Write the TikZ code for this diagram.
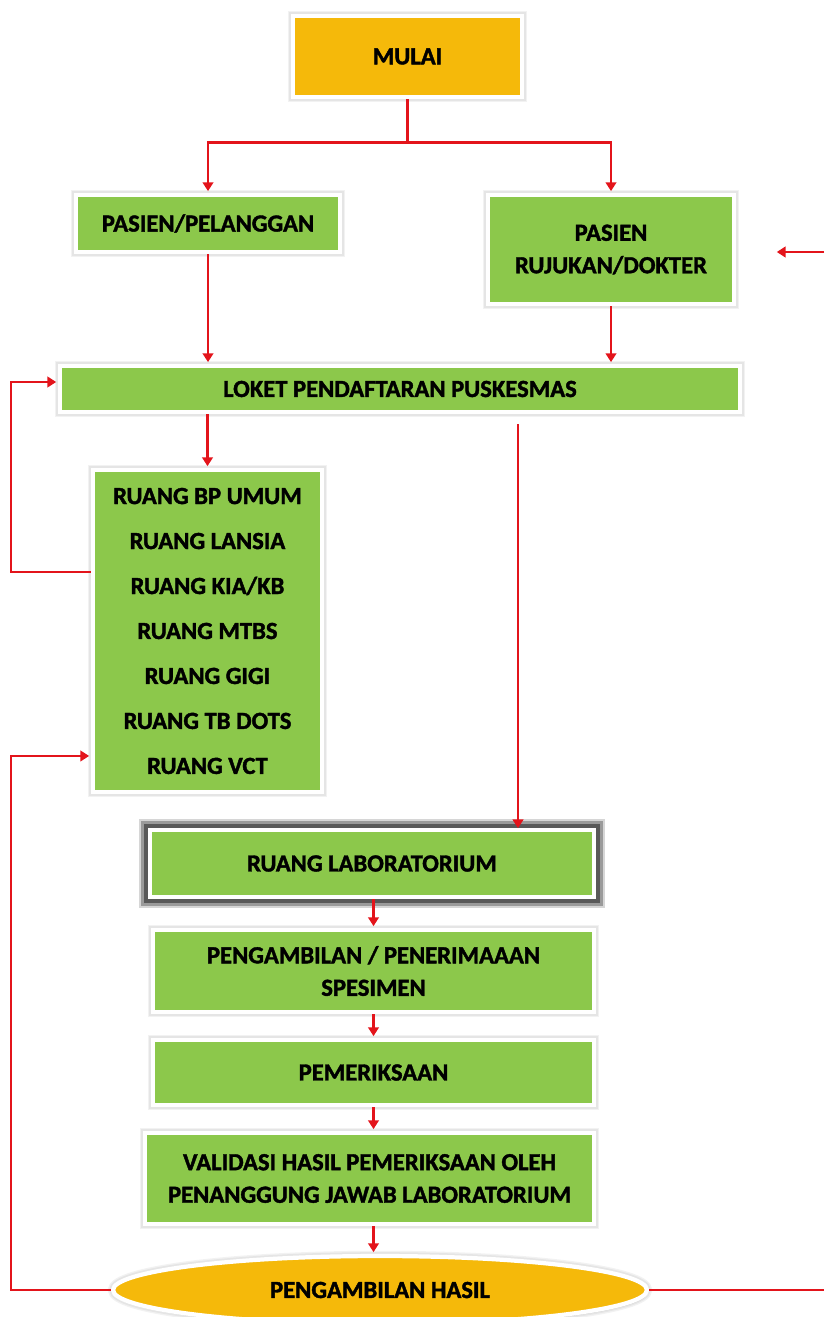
\documentclass[tikz,border=0pt]{standalone}
\usepackage{fontspec}
\setmainfont{Carlito}[BoldFeatures={FakeBold=1.6}]
\usetikzlibrary{arrows.meta,shapes.geometric,shadows}
\definecolor{hijau}{HTML}{8CC84B}
\definecolor{kuning}{HTML}{F5B90A}
\definecolor{merah}{HTML}{E3141B}

\begin{document}
\begin{tikzpicture}[x=0.02cm,y=-0.02cm,
    kotak/.style={draw=white,line width=2.4pt,fill=hijau,align=center,
      font=\fontsize{14}{18.5}\selectfont\bfseries,inner sep=2pt,
      preaction={draw=black!5,line width=6pt},
      preaction={draw=black!10,line width=4.4pt},
      drop shadow={shadow xshift=0.6pt,shadow yshift=-1.2pt,opacity=.25}},
    halo/.style={preaction={draw=black!20,line width=13pt,opacity=.8},
      preaction={draw=black!45,line width=10pt,opacity=.8},
      preaction={draw=black!65,line width=6.5pt}},
    arr/.style={merah,line width=1.6pt,-{Triangle[width=6pt,length=5pt]},shorten >=1pt},
    garis/.style={merah,line width=1.6pt}]
      \useasboundingbox (0,0) rectangle (824,1317) ;
      % kotak-kotak
      \node[kotak,fill=kuning,minimum width=4.58cm,minimum height=1.62cm] %
      (mulai) at (407.5,56.5) {MULAI} ;
      \node[kotak,minimum width=5.28cm,minimum height=1.14cm] %
      (pelanggan) at (208,223.5) {PASIEN/PELANGGAN} ;
      \node[kotak,minimum width=4.92cm,minimum height=2.18cm] %
      (rujukan) at (611,249.5) {PASIEN\\RUJUKAN/DOKTER} ;
      \node[kotak,minimum width=13.6cm,minimum height=0.92cm] %
      (loket) at (400,389) {LOKET PENDAFTARAN PUSKESMAS} ;
      \node[kotak,minimum width=4.58cm,minimum height=6.44cm,
        font=\fontsize{14}{25.6}\selectfont\bfseries] %
      (ruang) at (207.5,631) {RUANG BP UMUM\\RUANG LANSIA\\RUANG KIA/KB\\%
        RUANG MTBS\\RUANG GIGI\\RUANG TB DOTS\\RUANG VCT} ;
      \node[kotak,halo,minimum width=8.88cm,minimum height=1.34cm] %
      (lab) at (372,863.5) {RUANG LABORATORIUM} ;
      \node[kotak,minimum width=8.82cm,minimum height=1.64cm] %
      (spesimen) at (373.5,971) {PENGAMBILAN / PENERIMAAAN\\SPESIMEN} ;
      \node[kotak,minimum width=8.82cm,minimum height=1.3cm] %
      (periksa) at (373.5,1072.5) {PEMERIKSAAN} ;
      \node[kotak,minimum width=8.98cm,minimum height=1.82cm] %
      (validasi) at (369.5,1178.5) {VALIDASI HASIL PEMERIKSAAN OLEH\\%
        PENANGGUNG JAWAB LABORATORIUM} ;
      \node[kotak,ellipse,fill=kuning,minimum width=10.68cm,minimum height=1.36cm] %
      (hasil) at (380,1290) {PENGAMBILAN HASIL} ;
      % titik bantu
      \coordinate (labin) at (518,830) ;
      \coordinate (kanan) at (824,1290) ;
      \coordinate (luar) at (824,252) ;
      \coordinate (masuk) at (775,252) ;
      % panah
      \draw[arr] (mulai.south) -- ++(0,43) -| (pelanggan.north) ;
      \draw[arr] (mulai.south) -- ++(0,43) -| (rujukan.north) ;
      \draw[arr] (luar) -- (masuk) ;
      \draw[arr] (pelanggan.south) -- (pelanggan.south |- loket.north) ;
      \draw[arr] (rujukan.south) -- (rujukan.south |- loket.north) ;
      \draw[arr] (ruang.north |- loket.south) -- (ruang.north) ;
      \draw[arr] ([yshift=-0.2cm]loket.south -| labin) -- (labin) ;
      \draw[arr] ([yshift=1.18cm]ruang.west) -- ++(-80,0) |- ([yshift=0.14cm]loket.west) ;
      \draw[arr] (hasil.west) -- ++(-100,0) |- ([yshift=-2.5cm]ruang.west) ;
      \draw[garis] (hasil.east) -- (kanan) ;
      \draw[arr] (lab.south -| periksa.south) -- (spesimen.north -| periksa.south) ;
      \draw[arr] (spesimen.south) -- (periksa.north) ;
      \draw[arr] (periksa.south) -- (validasi.north -| periksa.south) ;
      \draw[arr] (validasi.south -| periksa.south) -- (hasil.north -| periksa.south) ;
\end{tikzpicture}
\end{document}
